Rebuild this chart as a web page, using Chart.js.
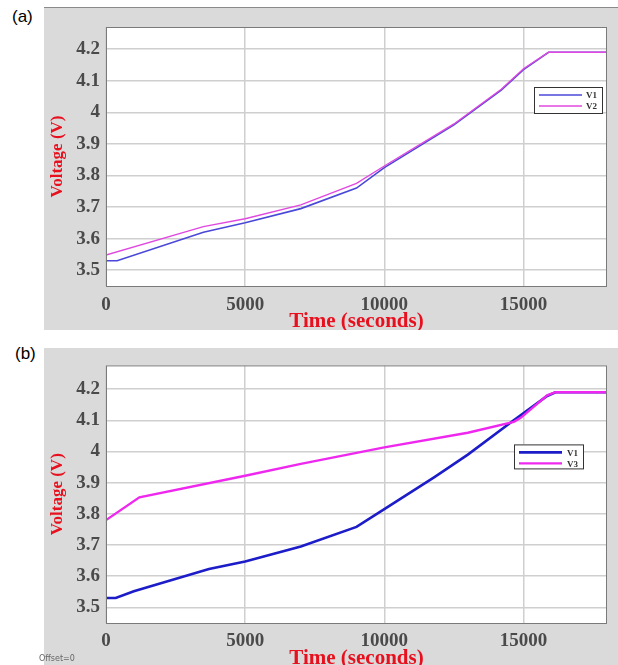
<!DOCTYPE html>
<html>
<head>
<meta charset="utf-8">
<title>Voltage vs time</title>
<script src="https://cdn.jsdelivr.net/npm/chart.js@4.4.1/dist/chart.umd.min.js"></script>
<style>
  html, body { margin: 0; padding: 0; background: #fff; }
  body { width: 618px; height: 665px; position: relative; overflow: hidden; }
  .panel { position: absolute; left: 44px; width: 574px; background: #dadada; }
  #panelA { top: 7px; height: 323px; border-top: 1px solid #8a8a8a; box-sizing: border-box; }
  #panelB { top: 348px; height: 317px; }
  .panel canvas { position: absolute; left: 0; top: 0; }
  .tag { position: absolute; font-family: "Liberation Sans", Arial, sans-serif; font-size: 17px; color: #000; }
  #offset { position: absolute; left: 39px; top: 654px; font-family: "DejaVu Sans", sans-serif; font-size: 8px; color: #666; }
</style>
</head>
<body>
<div class="tag" style="left:12px; top:7px;">(a)</div>
<div class="tag" style="left:15px; top:344px;">(b)</div>
<div class="panel" id="panelA"><canvas id="chartA" width="574" height="322"></canvas></div>
<div class="panel" id="panelB"><canvas id="chartB" width="574" height="317"></canvas></div>
<div id="offset">Offset=0</div>
<script>
// --- Data ---
const xTicks = [0, 5000, 10000, 15000];
const yTicks = [3.5, 3.6, 3.7, 3.8, 3.9, 4.0, 4.1, 4.2];
const yTickLabels = ['3.5', '3.6', '3.7', '3.8', '3.9', '4', '4.1', '4.2'];

// (a)
const timeA1 = [0, 400, 3500, 5000, 7000, 9000, 10000, 12500, 14200, 15000, 15900, 18000];
const voltA1 = [3.53, 3.53, 3.62, 3.65, 3.695, 3.76, 3.825, 3.96, 4.07, 4.135, 4.19, 4.19];
const timeA2 = [0, 3500, 5000, 7000, 9000, 10000, 12500, 14200, 15000, 15900, 18000];
const voltA2 = [3.548, 3.638, 3.663, 3.707, 3.775, 3.83, 3.963, 4.073, 4.138, 4.19, 4.19];

// (b)
const timeB1 = [0, 350, 1000, 3700, 5000, 7000, 9000, 10000, 11800, 13000, 14650, 15850, 16150, 18000];
const voltB1 = [3.53, 3.53, 3.552, 3.623, 3.647, 3.695, 3.758, 3.815, 3.918, 3.99, 4.10, 4.178, 4.19, 4.19];
const timeB3 = [0, 1200, 5000, 7000, 10000, 13000, 14650, 14900, 15850, 16150, 18000];
const voltB3 = [3.78, 3.853, 3.922, 3.96, 4.013, 4.06, 4.095, 4.108, 4.18, 4.19, 4.19];

const toPoints = (xs, ys) => xs.map((x, i) => ({ x, y: ys[i] }));

const SERIF = '"Liberation Serif", "Times New Roman", serif';
const RED = '#e8101e';

// white plot area, frame around it, and the small legend box
const framePlugin = {
    id: 'frame',
    beforeDraw(chart) {
        const { ctx, chartArea: a } = chart;
        ctx.save();
        ctx.fillStyle = '#fff';
        ctx.fillRect(a.left, a.top, a.right - a.left, a.bottom - a.top);
        ctx.restore();
    },
    afterDraw(chart, args, opts) {
        const { ctx, chartArea: a } = chart;
        ctx.save();
        ctx.strokeStyle = '#7a7a7a';
        ctx.lineWidth = 1;
        ctx.strokeRect(a.left + 0.5, a.top + 0.5, a.right - a.left - 1, a.bottom - a.top);

        const lg = opts.legend;
        if (lg) {
            const x = a.left + lg.dx, y = a.top + lg.dy;
            ctx.fillStyle = '#fff';
            ctx.fillRect(x, y, lg.w, lg.h);
            ctx.strokeStyle = '#333';
            ctx.lineWidth = 1;
            ctx.strokeRect(x + 0.5, y + 0.5, lg.w, lg.h);
            ctx.font = 'bold 9px ' + SERIF;
            ctx.textBaseline = 'middle';
            ctx.textAlign = 'right';
            chart.data.datasets.forEach((ds, i) => {
                const ry = y + 8 + i * 11;
                ctx.strokeStyle = ds.borderColor;
                ctx.lineWidth = ds.borderWidth;
                ctx.beginPath();
                ctx.moveTo(x + 5, ry);
                ctx.lineTo(x + 48, ry);
                ctx.stroke();
                ctx.fillStyle = '#333';
                ctx.fillText(ds.label, x + lg.w - 5, ry + 1);
            });
        }
        ctx.restore();
    }
};

function makeChart(id, datasets, cfg) {
    return new Chart(document.getElementById(id), {
        type: 'line',
        data: { datasets },
        options: {
            responsive: false,
            animation: false,
            layout: { padding: { left: 0, right: 11, top: cfg.top, bottom: 0 } },
            elements: { point: { radius: 0 }, line: { tension: 0 } },
            plugins: {
                legend: { display: false },
                tooltip: { enabled: false },
                frame: { legend: cfg.legend }
            },
            scales: {
                x: {
                    type: 'linear',
                    min: 0,
                    max: 18000,
                    afterBuildTicks: axis => { axis.ticks = xTicks.map(v => ({ value: v })); },
                    afterFit: axis => { axis.height = cfg.xHeight; },
                    grid: { color: '#cfcfcf', lineWidth: 1.5, drawTicks: false },
                    border: { display: false },
                    ticks: {
                        color: '#4a4a4a',
                        padding: cfg.xPad,
                        maxRotation: 0,
                        font: { family: SERIF, size: 19, weight: 'bold' },
                        callback: v => String(v)
                    },
                    title: {
                        display: true,
                        text: 'Time (seconds)',
                        color: RED,
                        padding: { top: 0, bottom: cfg.titlePad },
                        font: { family: SERIF, size: 21, weight: 'bold', lineHeight: 1 }
                    }
                },
                y: {
                    type: 'linear',
                    min: 3.45,
                    max: cfg.yMax,
                    afterBuildTicks: axis => { axis.ticks = yTicks.map(v => ({ value: v })); },
                    afterFit: axis => { axis.width = 62; },
                    grid: { color: '#cfcfcf', lineWidth: 1.5, drawTicks: false },
                    border: { display: false },
                    ticks: {
                        color: '#4a4a4a',
                        padding: 6,
                        font: { family: SERIF, size: 19, weight: 'bold' },
                        callback: v => {
                            const i = yTicks.findIndex(t => Math.abs(t - v) < 1e-6);
                            return i >= 0 ? yTickLabels[i] : '';
                        }
                    },
                    title: {
                        display: true,
                        text: 'Voltage (V)',
                        color: RED,
                        padding: { top: 3, bottom: 0 },
                        font: { family: SERIF, size: 17, weight: 'bold', lineHeight: 1.2 }
                    }
                }
            }
        },
        plugins: [framePlugin]
    });
}

makeChart('chartA', [
    { label: 'V1', data: toPoints(timeA1, voltA1), borderColor: '#4a48d8', borderWidth: 1.6, fill: false, order: 1 },
    { label: 'V2', data: toPoints(timeA2, voltA2), borderColor: '#e048e0', borderWidth: 1.4, fill: false, order: 0 }
], { top: 19, xHeight: 44, xPad: 8, titlePad: -2, yMax: 4.27, legend: { dx: 428, dy: 60, w: 68, h: 26 } });

makeChart('chartB', [
    { label: 'V1', data: toPoints(timeB1, voltB1), borderColor: '#1c1cc8', borderWidth: 2.6, fill: false, order: 1 },
    { label: 'V3', data: toPoints(timeB3, voltB3), borderColor: '#ee28ee', borderWidth: 2.4, fill: false, order: 0 }
], { top: 13, xHeight: 42, xPad: 7, titlePad: -4, yMax: 4.276, legend: { dx: 408, dy: 79, w: 69, h: 24 } });
</script>
</body>
</html>
